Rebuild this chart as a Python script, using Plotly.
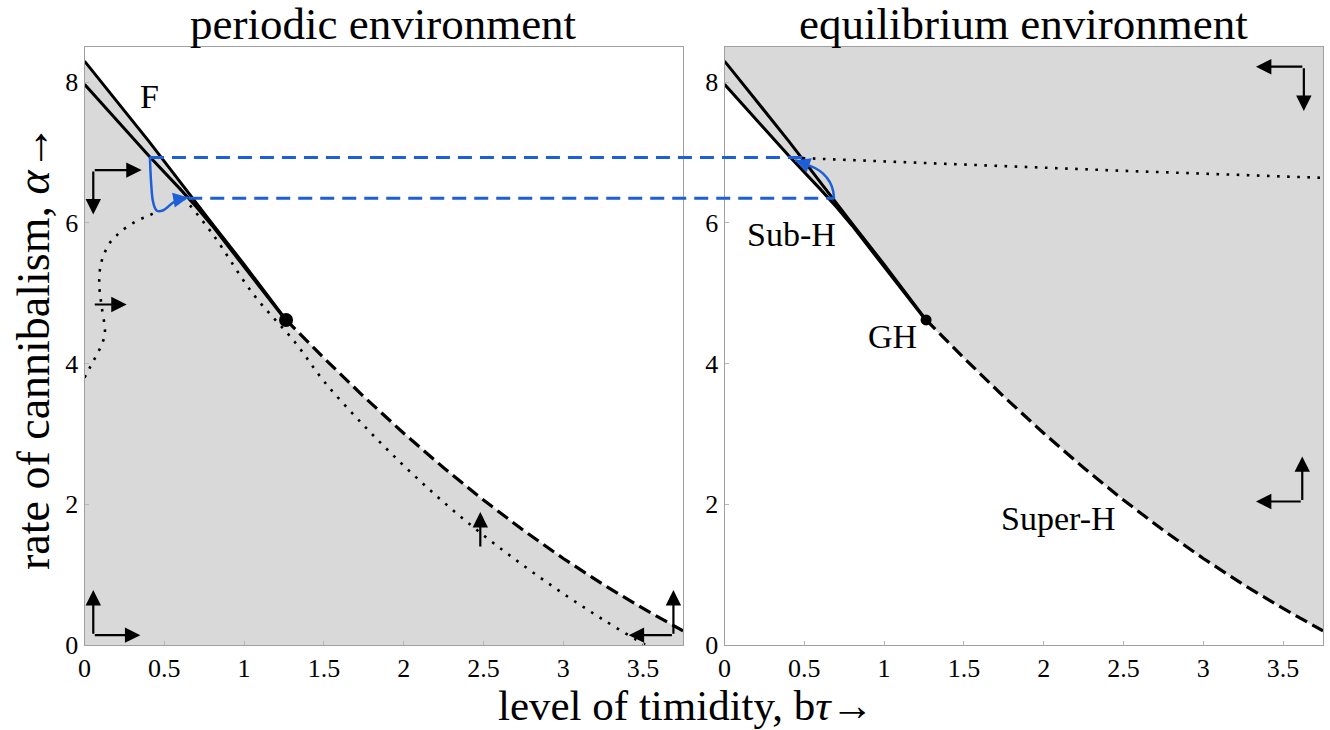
import plotly.graph_objects as go

# ---------------- data ----------------
X_RANGE = [0, 3.75]
Y_RANGE = [0, 8.5]
X_TICKS = [0, 0.5, 1, 1.5, 2, 2.5, 3, 3.5]
X_TICK_LABELS = ["0", "0.5", "1", "1.5", "2", "2.5", "3", "3.5"]
Y_TICKS = [0, 2, 4, 6, 8]
Y_TICK_LABELS = ["0", "2", "4", "6", "8"]

# fold curve F (upper solid line), bτ from 0 to the GH point
FOLD_X = [0, 0.2, 0.4, 0.6, 0.7, 0.8, 1.0, 1.263]
FOLD_Y = [8.30, 7.74, 7.17, 6.58, 6.28, 5.99, 5.41, 4.62]
# subcritical Hopf curve (lower solid line)
SUBH_X = [0, 0.2, 0.4, 0.6, 0.7, 0.8, 1.0, 1.263]
SUBH_Y = [7.97, 7.46, 6.96, 6.48, 6.23, 5.96, 5.38, 4.61]
# supercritical Hopf curve (dashed), from GH to the right edge
SUPH_X = [1.263, 1.5, 1.75, 2.0, 2.25, 2.5, 2.75, 3.0, 3.25, 3.5, 3.75]
SUPH_Y = [4.62, 4.08, 3.53, 3.01, 2.52, 2.06, 1.63, 1.23, 0.86, 0.52, 0.20]
GH_X = [1.263]
GH_Y = [4.62]

# periodic environment: dotted curves
DOT1_X = [0.0, 0.035, 0.075, 0.11, 0.128, 0.107, 0.093, 0.097, 0.118, 0.16, 0.21, 0.264, 0.337, 0.40, 0.452]
DOT1_Y = [3.80, 3.95, 4.12, 4.28, 4.44, 4.82, 5.10, 5.34, 5.53, 5.72, 5.84, 5.94, 6.04, 6.10, 6.16]
DOT2_X = [0.62, 0.8, 1.06, 1.32, 1.5, 1.75, 2.0, 2.25, 2.5, 2.75, 3.0, 3.25, 3.5, 3.52]
DOT2_Y = [6.36, 5.85, 4.98, 4.30, 3.75, 3.12, 2.55, 2.03, 1.56, 1.13, 0.73, 0.36, 0.02, 0.0]
# equilibrium environment: dotted line
DOT3_X = [0.49, 1.5, 2.5, 3.75]
DOT3_Y = [6.92, 6.83, 6.74, 6.64]

# blue trajectories
BLUE_L_X = [0.41, 0.413, 0.418, 0.427, 0.44, 0.455, 0.494, 0.556, 0.60, 0.65]
BLUE_L_Y = [6.94, 6.75, 6.55, 6.33, 6.22, 6.17, 6.18, 6.29, 6.34, 6.36]
BLUE_R_X = [0.686, 0.681, 0.660, 0.618, 0.567, 0.504, 0.442]
BLUE_R_Y = [6.34, 6.45, 6.58, 6.70, 6.78, 6.84, 6.89]
# blue dashed connectors: alpha level, start in left panel, end in right panel
CONN_Y = [6.93, 6.35]
CONN_X_LEFT = [0.41, 0.65]
CONN_X_RIGHT = [0.49, 0.686]

# flow-direction arrows (tail, head) in data units
LEFT_ARROWS = [((0.055, 6.75), (0.055, 6.12)), ((0.055, 6.75), (0.358, 6.75)),
               ((0.055, 4.84), (0.264, 4.84)),
               ((0.055, 0.14), (0.055, 0.78)), ((0.055, 0.14), (0.35, 0.14)),
               ((2.48, 1.38), (2.48, 1.89)),
               ((3.69, 0.14), (3.69, 0.78)), ((3.69, 0.14), (3.41, 0.14))]
RIGHT_ARROWS = [((3.63, 8.22), (3.33, 8.22)), ((3.63, 8.22), (3.63, 7.59)),
                ((3.62, 2.04), (3.62, 2.68)), ((3.62, 2.04), (3.33, 2.04))]

LABELS_LEFT = [("F", 0.41, 7.80)]
LABELS_RIGHT = [("Sub-H", 0.42, 5.83), ("GH", 1.05, 4.38), ("Super-H", 2.09, 1.80)]

# ---------------- style / layout ----------------
FONT = "Liberation Serif"
GRAY = "#d9d9d9"
BLUE = "#1c5fd6"
W, H = 1330, 730
LD = [84.5 / W, 683 / W]
RD = [724.5 / W, 1323 / W]
YD = [85 / H, 683 / H]

# full-width helper axes sharing the panels' scales
units_per_paper = (X_RANGE[1] - X_RANGE[0]) / (LD[1] - LD[0])
X3_RANGE = [-LD[0] * units_per_paper, (1 - LD[0]) * units_per_paper]
RIGHT_OFFSET = (RD[0] - LD[0]) * units_per_paper

fig = go.Figure()

# shading
fig.add_trace(go.Scatter(x=[0] + FOLD_X + SUPH_X[1:] + [X_RANGE[1]],
                         y=[0] + FOLD_Y + SUPH_Y[1:] + [0],
                         fill="toself", fillcolor=GRAY, mode="lines", line=dict(width=0),
                         xaxis="x", yaxis="y", hoverinfo="skip"))
fig.add_trace(go.Scatter(x=[0] + SUBH_X + SUPH_X[1:] + [X_RANGE[1]],
                         y=[Y_RANGE[1]] + SUBH_Y + SUPH_Y[1:] + [Y_RANGE[1]],
                         fill="toself", fillcolor=GRAY, mode="lines", line=dict(width=0),
                         xaxis="x2", yaxis="y2", hoverinfo="skip"))

for xa, ya in (("x", "y"), ("x2", "y2")):
    fig.add_trace(go.Scatter(x=FOLD_X, y=FOLD_Y, mode="lines", line=dict(color="black", width=3),
                             xaxis=xa, yaxis=ya))
    fig.add_trace(go.Scatter(x=SUBH_X, y=SUBH_Y, mode="lines", line=dict(color="black", width=3),
                             xaxis=xa, yaxis=ya))
    fig.add_trace(go.Scatter(x=SUPH_X, y=SUPH_Y, mode="lines",
                             line=dict(color="black", width=3.2, dash="13px,6px"),
                             xaxis=xa, yaxis=ya))

dot = dict(color="black", width=2.6, dash="2.6px,7.5px")
fig.add_trace(go.Scatter(x=DOT1_X, y=DOT1_Y, mode="lines", line=dict(shape="spline", **dot), xaxis="x", yaxis="y"))
fig.add_trace(go.Scatter(x=DOT2_X, y=DOT2_Y, mode="lines", line=dict(shape="spline", **dot), xaxis="x", yaxis="y"))
fig.add_trace(go.Scatter(x=DOT3_X, y=DOT3_Y, mode="lines", line=dot, xaxis="x2", yaxis="y2"))

# blue
fig.add_trace(go.Scatter(x=BLUE_L_X, y=BLUE_L_Y, mode="lines",
                         line=dict(color=BLUE, width=2.5, shape="spline"), xaxis="x", yaxis="y"))
fig.add_trace(go.Scatter(x=BLUE_R_X, y=BLUE_R_Y, mode="lines",
                         line=dict(color=BLUE, width=2.5, shape="spline"), xaxis="x2", yaxis="y2"))
for yv, xl, xr in zip(CONN_Y, CONN_X_LEFT, CONN_X_RIGHT):
    fig.add_trace(go.Scatter(x=[xl, xr + RIGHT_OFFSET], y=[yv, yv], mode="lines",
                             line=dict(color=BLUE, width=3, dash="14px,8px"),
                             xaxis="x3", yaxis="y3"))

# GH points
fig.add_trace(go.Scatter(x=GH_X, y=GH_Y, mode="markers", marker=dict(color="black", size=14),
                         xaxis="x", yaxis="y"))
fig.add_trace(go.Scatter(x=GH_X, y=GH_Y, mode="markers", marker=dict(color="black", size=11),
                         xaxis="x2", yaxis="y2"))

ann = []


def arrow(tail, head, xr, yr, color="black", width=2.2, size=1.4):
    ann.append(dict(x=head[0], y=head[1], ax=tail[0], ay=tail[1], xref=xr, yref=yr,
                    axref=xr, ayref=yr, showarrow=True, arrowhead=2, arrowsize=size,
                    arrowwidth=width, arrowcolor=color, text=""))


for t, h in LEFT_ARROWS:
    arrow(t, h, "x", "y")
for t, h in RIGHT_ARROWS:
    arrow(t, h, "x2", "y2")
arrow((BLUE_L_X[-2], BLUE_L_Y[-2]), (BLUE_L_X[-1], BLUE_L_Y[-1]), "x", "y", BLUE, 2.5, 1.2)
arrow((BLUE_R_X[-2], BLUE_R_Y[-2]), (BLUE_R_X[-1], BLUE_R_Y[-1]), "x2", "y2", BLUE, 2.5, 1.2)

lab_font = dict(family=FONT, size=34, color="black")
for t, x, y in LABELS_LEFT:
    ann.append(dict(x=x, y=y, xref="x", yref="y", text=t, showarrow=False, font=lab_font,
                    xanchor="center", yanchor="middle"))
for t, x, y in LABELS_RIGHT:
    ann.append(dict(x=x, y=y, xref="x2", yref="y2", text=t, showarrow=False, font=lab_font,
                    xanchor="center", yanchor="middle"))

for txt, x, y, ang, sz, ya in [
        ("periodic environment", (LD[0] + LD[1]) / 2, 1 - 24 / H, 0, 45, "middle"),
        ("equilibrium environment", (RD[0] + RD[1]) / 2, 1 - 24 / H, 0, 45, "middle"),
        ("rate of cannibalism, <i>α</i>→", 33 / W, 1 - 347 / H, -90, 46, "middle"),
        ("level of timidity, b<i>τ</i>→", 686 / W, 0, 0, 43, "bottom")]:
    ann.append(dict(x=x, y=y, xref="paper", yref="paper", text=txt, textangle=ang,
                    showarrow=False, font=dict(family=FONT, size=sz, color="black"),
                    xanchor="center", yanchor=ya, borderpad=0))

axis_common = dict(showline=True, mirror=True, linecolor="#a0a0a0", linewidth=1,
                   showgrid=False, zeroline=False, ticks="inside", ticklen=4,
                   tickcolor="#b8b8b8", automargin=False,
                   tickfont=dict(family=FONT, size=26, color="black"))

fig.update_layout(
    width=W, height=H, margin=dict(l=0, r=0, t=0, b=0, autoexpand=False),
    paper_bgcolor="white", plot_bgcolor="rgba(0,0,0,0)", showlegend=False,
    xaxis=dict(domain=LD, range=X_RANGE, tickvals=X_TICKS, ticktext=X_TICK_LABELS,
               anchor="y", **axis_common),
    yaxis=dict(domain=YD, range=Y_RANGE, tickvals=Y_TICKS, ticktext=Y_TICK_LABELS,
               anchor="x", **axis_common),
    xaxis2=dict(domain=RD, range=X_RANGE, tickvals=X_TICKS, ticktext=X_TICK_LABELS,
                anchor="y2", **axis_common),
    yaxis2=dict(domain=YD, range=Y_RANGE, tickvals=Y_TICKS, ticktext=Y_TICK_LABELS,
                anchor="x2", **axis_common),
    xaxis3=dict(domain=[0, 1], range=X3_RANGE, visible=False, anchor="y3"),
    yaxis3=dict(domain=YD, range=Y_RANGE, visible=False, anchor="x3"),
    annotations=ann,
)

fig.write_html("out.html")
